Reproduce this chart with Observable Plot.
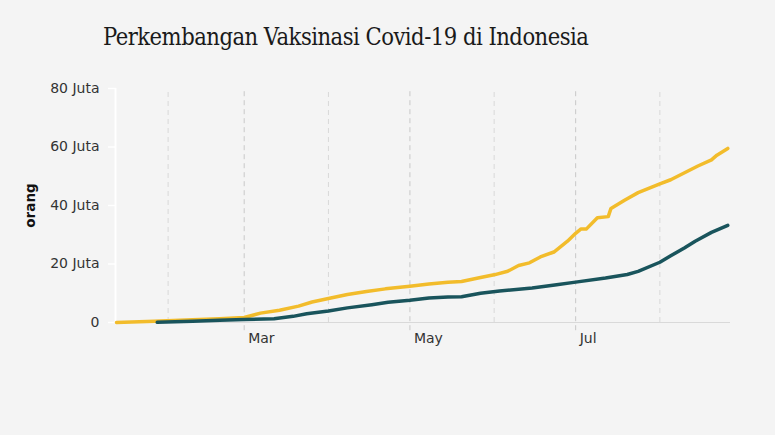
<!DOCTYPE html>
<html>
<head>
<meta charset="utf-8">
<script src="https://cdn.jsdelivr.net/npm/d3@7"></script>
<script src="https://cdn.jsdelivr.net/npm/@observablehq/plot@0.6"></script>
<style>
  html, body { margin: 0; padding: 0; background: #f4f4f4; }
  body { width: 775px; height: 435px; overflow: hidden; }
  #title {
    height: 80px; box-sizing: border-box; padding: 23px 0 0 103px;
    font-family: "DejaVu Serif Condensed", "DejaVu Serif", serif; font-stretch: condensed;
    font-size: 23.5px; color: #1a1a1a; letter-spacing: -0.5px;
  }
  #chart svg { display: block; }
</style>
</head>
<body>
<div id="title">Perkembangan Vaksinasi Covid-19 di Indonesia</div>
<div id="chart"></div>
<script>
// Dosis 1 (orang, juta)
const dose1Dates = ["2021-01-13","2021-01-27","2021-02-10","2021-02-20","2021-03-01","2021-03-07","2021-03-14","2021-03-21","2021-03-26","2021-04-01","2021-04-08","2021-04-15","2021-04-22","2021-05-01","2021-05-08","2021-05-15","2021-05-20","2021-05-27","2021-06-01","2021-06-06","2021-06-10","2021-06-14","2021-06-18","2021-06-23","2021-06-28","2021-07-01","2021-07-03","2021-07-05","2021-07-09","2021-07-13","2021-07-14","2021-07-19","2021-07-24","2021-08-01","2021-08-05","2021-08-15","2021-08-20","2021-08-22","2021-08-26"];
const dose1Values = [0.0,0.4,0.9,1.3,1.7,3.2,4.2,5.6,7.0,8.2,9.6,10.6,11.5,12.4,13.2,13.8,14.0,15.4,16.3,17.5,19.5,20.4,22.4,24.1,27.8,30.5,32.0,32.0,35.8,36.2,39.0,41.8,44.4,47.4,48.8,53.5,55.6,57.2,59.5];
// Dosis 2 (orang, juta)
const dose2Dates = ["2021-01-28","2021-02-10","2021-02-20","2021-03-01","2021-03-12","2021-03-19","2021-03-24","2021-04-01","2021-04-08","2021-04-17","2021-04-23","2021-05-01","2021-05-08","2021-05-15","2021-05-20","2021-05-27","2021-06-03","2021-06-15","2021-06-24","2021-07-01","2021-07-12","2021-07-20","2021-07-24","2021-08-01","2021-08-05","2021-08-10","2021-08-14","2021-08-20","2021-08-23","2021-08-26"];
const dose2Values = [0.05,0.4,0.8,1.0,1.3,2.1,3.0,3.9,5.0,6.1,6.9,7.6,8.4,8.7,8.8,10.0,10.8,11.8,12.9,13.8,15.2,16.4,17.5,20.6,22.8,25.5,27.8,30.8,32.0,33.2];

const yTicks = [0, 20, 40, 60, 80];
const majorDates = ["2021-03-01","2021-05-01","2021-07-01"];
const majorLabels = ["Mar","May","Jul"];
const minorDates = ["2021-02-01","2021-04-01","2021-06-01","2021-08-01"];
const xDomain = ["2021-01-13","2021-08-27"];
const yLabel = "orang";

const parse = d3.utcParse("%Y-%m-%d");
const d1 = dose1Dates.map((d, i) => ({date: parse(d), value: dose1Values[i]}));
const d2 = dose2Dates.map((d, i) => ({date: parse(d), value: dose2Values[i]}));
const major = majorDates.map(parse);
const minor = minorDates.map(parse);
const labelOf = new Map(major.map((d, i) => [+d, majorLabels[i]]));

const chart = Plot.plot({
  width: 775,
  height: 300,
  marginLeft: 116,
  marginRight: 45,
  marginTop: 8,
  marginBottom: 58,
  style: {background: "#f4f4f4", fontFamily: "DejaVu Sans, sans-serif", fontSize: "14px", color: "#333"},
  x: {type: "utc", domain: xDomain.map(parse)},
  y: {domain: [0, 80]},
  marks: [
    Plot.ruleX(minor, {y1: 0, y2: 80, stroke: "#d8d8d8", strokeDasharray: "5,4", strokeWidth: 1}),
    Plot.ruleX(major, {y1: -2.8, y2: 80, stroke: "#c8c8c8", strokeDasharray: "5,4", strokeWidth: 1}),
    Plot.ruleY([0], {stroke: "#d9d9d9", strokeWidth: 1.2}),
    Plot.ruleX([parse(xDomain[0])], {y1: 0, y2: 80, stroke: "#ffffff", strokeWidth: 2, dx: -1}),
    Plot.axisY({ticks: yTicks, tickSize: 8, tickPadding: 9, stroke: "#ffffff", strokeWidth: 1.5, fill: "#333",
      tickFormat: d => d === 0 ? "0" : `${d} Juta`, label: null, fontSize: 14}),
    Plot.axisX({ticks: major, tickSize: 0, tickPadding: 11, textAnchor: "start", dx: 4, fill: "#333",
      tickFormat: d => labelOf.get(+d), label: null, fontSize: 14}),
    Plot.text([yLabel], {frameAnchor: "left", textAnchor: "middle", rotate: -90, dx: -86, fontWeight: "bold", fontSize: 13.5, fill: "#111"}),
    Plot.line(d1, {x: "date", y: "value", stroke: "#f2bc2b", strokeWidth: 3.5}),
    Plot.line(d2, {x: "date", y: "value", stroke: "#19545c", strokeWidth: 3.5})
  ]
});
document.getElementById("chart").appendChild(chart);
</script>
</body>
</html>
